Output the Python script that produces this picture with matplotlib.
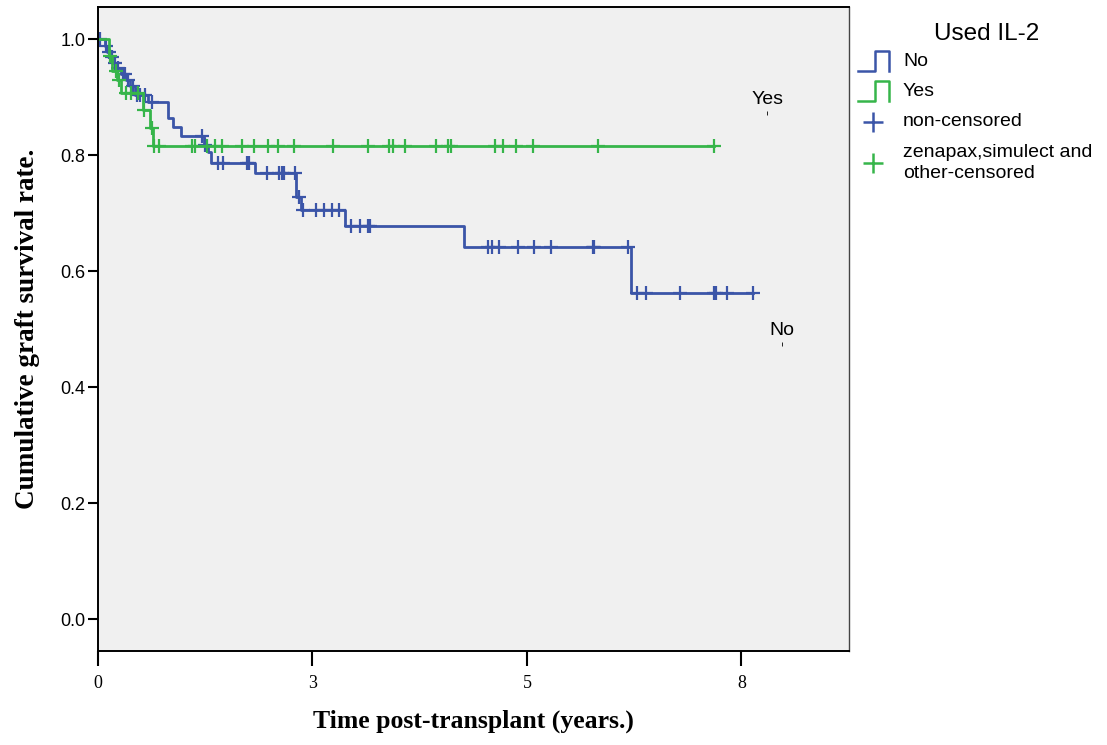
import numpy as np
import matplotlib
matplotlib.use("Agg")
import matplotlib.pyplot as plt
from matplotlib.lines import Line2D

# Kaplan-Meier steps (years, cumulative survival)
no_times = [0, 0.08, 0.105, 0.14, 0.175, 0.22, 0.27, 0.33, 0.37, 0.43, 0.58, 0.82, 0.87, 0.97,
            1.235, 1.28, 1.32, 1.83, 2.31, 2.37, 2.88, 4.27, 6.21]
no_surv = [1.0, 0.988, 0.978, 0.969, 0.959, 0.95, 0.94, 0.929, 0.919, 0.903, 0.891, 0.864, 0.848, 0.833,
           0.817, 0.805, 0.786, 0.769, 0.728, 0.706, 0.677, 0.641, 0.562]
no_censored = [0.02, 0.093, 0.128, 0.163, 0.198, 0.233, 0.291, 0.315, 0.35, 0.408, 0.455, 0.49, 0.548, 0.629,
               1.212, 1.247, 1.399, 1.457, 1.737, 1.76, 1.97, 2.11, 2.145, 2.168, 2.30, 2.343, 2.39, 2.541,
               2.634, 2.727, 2.809, 2.949, 3.054, 3.147, 3.17, 4.545, 4.592, 4.674, 4.895, 5.082, 5.28,
               5.769, 5.781, 6.177, 6.282, 6.387, 6.783, 7.179, 7.203, 7.331, 7.634]

yes_times = [0, 0.128, 0.163, 0.22, 0.27, 0.525, 0.606, 0.64]
yes_surv = [1.0, 0.97, 0.945, 0.93, 0.907, 0.877, 0.847, 0.8155]
yes_censored = [0.14, 0.21, 0.245, 0.326, 0.385, 0.466, 0.536, 0.626, 0.656, 0.715, 1.092, 1.131, 1.274,
                1.364, 1.442, 1.675, 1.818, 1.976, 2.101, 2.288, 2.739, 3.143, 3.395, 3.435, 3.578, 3.939,
                4.076, 4.114, 4.623, 4.717, 4.872, 5.066, 5.824, 7.179]

x_ticks = [0, 2.5, 5, 7.5]
x_ticklabels = ["0", "3", "5", "8"]
y_ticks = [0.0, 0.2, 0.4, 0.6, 0.8, 1.0]

blue = "#3b55a8"
green = "#36b54a"


def value_at(times, surv, t):
    idx = np.searchsorted(times, t, side="right") - 1
    return np.asarray(surv)[idx]


fig = plt.figure(figsize=(11.07, 7.45), dpi=100)
W, H = 1107, 745
ax = fig.add_axes([98 / W, 1 - 651 / H, (849 - 98) / W, (651 - 7) / H])
ax.set_facecolor("#f0f0f0")

for times, surv, cens, col in [(no_times, no_surv, no_censored, blue),
                               (yes_times, yes_surv, yes_censored, green)]:
    t = list(times) + [cens[-1]]
    s = list(surv) + [surv[-1]]
    ax.step(t, s, where="post", color=col, lw=2.0)
    ax.plot(cens, value_at(times, surv, cens), ls="none", marker="+", ms=10,
            mew=1.6, color=col)

# curve labels
ax.text(7.80, 0.895, "Yes", fontsize=14, family="Liberation Sans", ha="center", va="center")
ax.plot([7.80], [0.872], marker="|", ms=3, mew=0.6, color="k")
ax.text(7.97, 0.497, "No", fontsize=14, family="Liberation Sans", ha="center", va="center")
ax.plot([7.97], [0.474], marker="|", ms=3, mew=0.6, color="k")

ax.set_xlim(0, (849 - 98) / 85.8)
ax.set_ylim((619 - 651) / 580, (619 - 7) / 580)
ax.set_xticks(x_ticks)
ax.set_xticklabels(x_ticklabels, family="Liberation Serif", fontsize=13)
ax.set_yticks(y_ticks)
ax.set_yticklabels([f"{v:.1f}" for v in y_ticks], family="Liberation Sans", fontsize=13)
ax.tick_params(axis="x", length=11, width=1.5, pad=6)
ax.tick_params(axis="y", length=7, width=1.5, pad=2)
for side in ["left", "bottom", "top"]:
    ax.spines[side].set_linewidth(1.4)
ax.spines["right"].set_linewidth(1.0)
ax.spines["right"].set_color("#444444")

ax.set_xlabel("Time post-transplant (years.)", family="Liberation Serif", fontweight="bold",
              fontsize=18.5, labelpad=13)
ax.set_ylabel("Cumulative graft survival rate.", family="Liberation Serif", fontweight="bold",
              fontsize=19.5, labelpad=15)

# legend drawn in pixel space on an overlay
lg = fig.add_axes([0, 0, 1, 1], facecolor="none")
lg.set_xlim(0, W)
lg.set_ylim(H, 0)
lg.axis("off")
lg.text(987, 34, "Used IL-2", fontsize=17.5, family="Liberation Sans", ha="center", va="center")
for y0, col, lab in [(71, blue, "No"), (101, green, "Yes")]:
    lg.add_line(Line2D([858, 875, 875, 889, 889], [y0, y0, y0 - 20, y0 - 20, y0], color=col, lw=1.8))
    lg.text(903, y0 - 10, lab, fontsize=14, family="Liberation Sans", va="center")
lg.plot([873], [122], marker="+", ms=14, mew=1.8, color=blue)
lg.text(903, 122, "non-censored", fontsize=14, family="Liberation Sans", va="center")
lg.plot([873], [163], marker="+", ms=14, mew=1.8, color=green)
lg.text(903, 163, "zenapax,simulect and\nother-censored", fontsize=14, family="Liberation Sans",
        va="center", linespacing=1.25)

fig.savefig("out.png", dpi=100)
